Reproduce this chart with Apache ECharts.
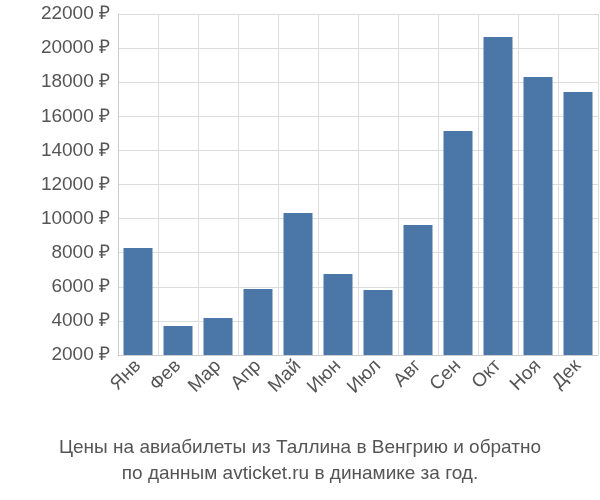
<!DOCTYPE html>
<html><head><meta charset="utf-8">
<script src="https://cdn.jsdelivr.net/npm/echarts@6/dist/echarts.min.js"></script>
<style>body{margin:0}#c{width:600px;height:500px}</style></head>
<body><div id="c"></div>
<script>
const categories=["Янв","Фев","Мар","Апр","Май","Июн","Июл","Авг","Сен","Окт","Ноя","Дек"];
const values=[8280,3700,4170,5870,10330,6750,5810,9620,15140,20650,18300,17420];
const chart=echarts.init(document.getElementById('c'));
chart.setOption({
 animation:false,
 title:{text:"Цены на авиабилеты из Таллина в Венгрию и обратно\nпо данным avticket.ru в динамике за год.",left:'center',bottom:8,
  textStyle:{fontFamily:'Liberation Sans, Arial',fontSize:19,fontWeight:'normal',color:'#555',lineHeight:26}},
 grid:{left:118,right:2,top:14,bottom:145},
 xAxis:{type:'category',data:categories,
  axisLabel:{rotate:45,fontSize:19,color:'#555',fontFamily:'Liberation Sans, Arial',interval:0,margin:8},
  axisLine:{lineStyle:{color:'#ccc'}},axisTick:{show:false},
  splitLine:{show:true,lineStyle:{color:'#ddd'}}},
 yAxis:{type:'value',min:2000,max:22000,interval:2000,
  axisLabel:{formatter:v=>v+' ₽',fontSize:19,color:'#555',fontFamily:'Liberation Sans, Arial'},
  axisLine:{show:true,lineStyle:{color:'#ccc'}},
  splitLine:{lineStyle:{color:'#ddd'}}},
 series:[{type:'bar',data:values,barWidth:29,itemStyle:{color:'#4a76a8'}}]
});
</script></body></html>
